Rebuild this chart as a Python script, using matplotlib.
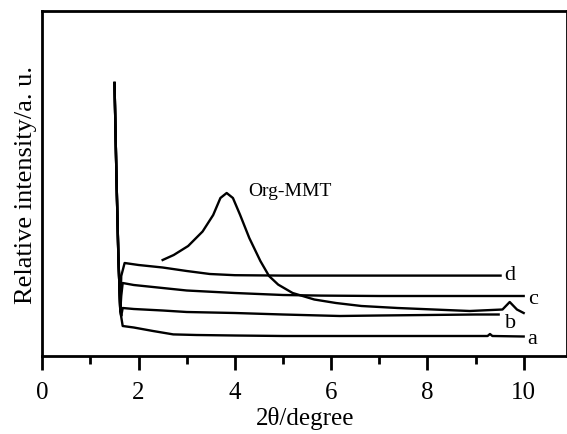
import numpy as np
import matplotlib.pyplot as plt
from matplotlib.ticker import MultipleLocator

plt.rcParams['font.family'] = ['Liberation Serif', 'DejaVu Serif']

# XRD traces (2theta in degree, intensity in arbitrary units)
spike_x = [1.50, 1.51, 1.54, 1.58, 1.62]
spike_y = [273, 250, 180, 100, 45]

a_x = spike_x + [1.67, 1.9, 2.3, 2.72, 3.2, 4.0, 5.0, 6.0, 7.0, 8.0, 9.0, 9.25, 9.3, 9.35, 10.0]
a_y = spike_y + [30, 28.5, 25, 21.6, 21, 20.5, 20, 20, 20, 20, 20, 20, 22, 20, 19.5]

b_x = spike_x + [1.64, 1.67, 1.9, 2.5, 3.0, 4.0, 5.0, 6.18, 7.0, 8.0, 9.0, 9.48]
b_y = spike_y + [40, 48, 47, 45.5, 44, 43, 41.5, 40, 40.5, 41, 41.5, 41.5]

c_x = spike_x + [1.64, 1.67, 1.9, 2.5, 3.0, 4.0, 5.0, 5.8, 7.0, 8.0, 9.0, 10.0]
c_y = spike_y + [60, 73, 71, 68, 65.5, 63, 61, 60.4, 60, 60, 60, 60]

d_x = spike_x + [1.64, 1.71, 2.0, 2.5, 3.0, 3.48, 4.0, 5.0, 6.0, 7.0, 8.0, 9.0, 9.52]
d_y = spike_y + [80, 93, 91, 88.5, 85, 82, 80.8, 80.4, 80.4, 80.4, 80.4, 80.4, 80.4]

org_x = [2.50, 2.73, 3.03, 3.33, 3.55, 3.70, 3.83, 3.96, 4.11, 4.30, 4.53, 4.71,
         4.90, 5.20, 5.65, 6.10, 6.63, 7.38, 8.13, 8.88, 9.56, 9.71, 9.86, 10.0]
org_y = [96, 101, 110, 124.5, 141, 158, 163, 158, 141, 118, 95, 80,
         71.4, 63, 56.5, 53, 50, 48, 46.5, 45, 46.5, 54, 46.5, 43]

fig = plt.figure(figsize=(5.67, 4.35), dpi=100)
ax = fig.add_axes([42.3/567, 78/435, 524.7/567, 344.7/435])

for xs, ys in [(a_x, a_y), (b_x, b_y), (c_x, c_y), (d_x, d_y), (org_x, org_y)]:
    ax.plot(xs, ys, color='black', lw=1.7, solid_joinstyle='round')

lbl = dict(fontsize=16, va='center', ha='left')
ax.text(10.08, 17, 'a', **lbl)
ax.text(9.62, 33, 'b', **lbl)
ax.text(10.1, 57, 'c', **lbl)
ax.text(9.6, 81, 'd', **lbl)
ax.text(4.27, 165, 'Org-MMT', fontsize=14, va='center', ha='left')

ax.set_xlim(0, 10.9)
ax.set_ylim(0, 344.7)
ax.set_xticks([0, 2, 4, 6, 8, 10])
ax.xaxis.set_minor_locator(MultipleLocator(1))
ax.tick_params(axis='x', which='major', direction='out', length=10, width=2, labelsize=18, pad=8)
ax.tick_params(axis='x', which='minor', direction='out', length=5.5, width=2)
ax.set_yticks([])
for s in ax.spines.values():
    s.set_linewidth(2)

ax.set_xlabel('2θ/degree', fontsize=18, labelpad=2)
ax.set_ylabel('Relative intensity/a. u.', fontsize=19, labelpad=4)

fig.savefig('out.png', dpi=100)
